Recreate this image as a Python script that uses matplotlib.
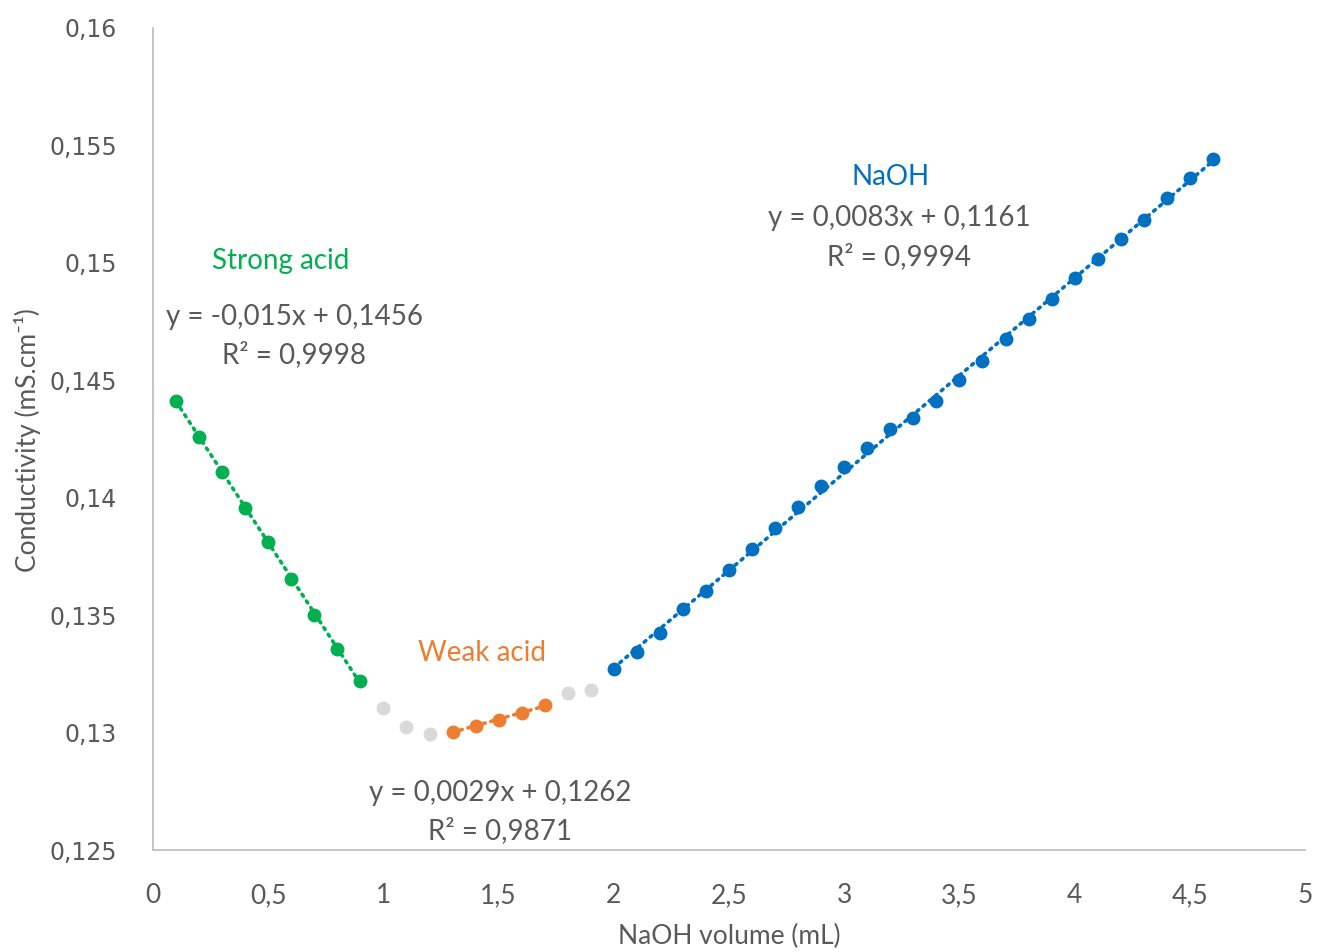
import numpy as np
import matplotlib
matplotlib.use("Agg")
import matplotlib.pyplot as plt

# ---- data ----
strong_x = [0.1, 0.2, 0.3, 0.4, 0.5, 0.6, 0.7, 0.8, 0.9]
strong_y = [0.14413, 0.14260, 0.14110, 0.13958, 0.13811, 0.13653, 0.13501, 0.13357, 0.13220]

grey_x = [1.0, 1.1, 1.2, 1.8, 1.9]
grey_y = [0.13103, 0.13025, 0.12995, 0.13170, 0.13181]

weak_x = [1.3, 1.4, 1.5, 1.6, 1.7]
weak_y = [0.13004, 0.13029, 0.13054, 0.13082, 0.13117]

naoh_x = [2.0, 2.1, 2.2, 2.3, 2.4, 2.5, 2.6, 2.7, 2.8, 2.9, 3.0, 3.1, 3.2, 3.3,
          3.4, 3.5, 3.6, 3.7, 3.8, 3.9, 4.0, 4.1, 4.2, 4.3, 4.4, 4.5, 4.6]
naoh_y = [0.13271, 0.13343, 0.13423, 0.13525, 0.13604, 0.13691, 0.13783, 0.13871,
          0.13959, 0.14051, 0.14131, 0.14210, 0.14291, 0.14338, 0.14413, 0.14501,
          0.14582, 0.14674, 0.14760, 0.14847, 0.14934, 0.15015, 0.15100, 0.15181,
          0.15275, 0.15363, 0.15442]

x_ticks = [0, 0.5, 1, 1.5, 2, 2.5, 3, 3.5, 4, 4.5, 5]
x_tick_labels = ["0", "0,5", "1", "1,5", "2", "2,5", "3", "3,5", "4", "4,5", "5"]
y_ticks = [0.125, 0.13, 0.135, 0.14, 0.145, 0.15, 0.155, 0.16]
y_tick_labels = ["0,125", "0,13", "0,135", "0,14", "0,145", "0,15", "0,155", "0,16"]

GREEN = "#00B050"
ORANGE = "#ED7D31"
BLUE = "#0070C0"
GREY = "#D9D9D9"
TXT = "#595959"

fig = plt.figure(figsize=(13.17, 9.52), dpi=100)
ax = fig.add_axes([0.1162, 0.1071, 0.8747, 0.8635])

def trend(xs, ys, color):
    c = np.polyfit(xs, ys, 1)
    xx = np.array([min(xs), max(xs)])
    ax.plot(xx, np.polyval(c, xx), linestyle=(0, (0.6, 1.6)), color=color,
            linewidth=2.6, dash_capstyle="round", zorder=2)

trend(strong_x, strong_y, GREEN)
trend(weak_x, weak_y, ORANGE)
trend(naoh_x, naoh_y, BLUE)

ms = 9
ax.plot(grey_x, grey_y, "o", color=GREY, markersize=ms, zorder=3)
ax.plot(strong_x, strong_y, "o", color=GREEN, markersize=ms, zorder=3)
ax.plot(weak_x, weak_y, "o", color=ORANGE, markersize=ms, zorder=3)
ax.plot(naoh_x, naoh_y, "o", color=BLUE, markersize=ms, zorder=3)

ax.set_xlim(0, 5)
ax.set_ylim(0.125, 0.16)
ax.set_xticks(x_ticks)
ax.set_xticklabels(x_tick_labels, fontfamily="Lato", fontsize=19, color=TXT)
ax.set_yticks(y_ticks)
ax.set_yticklabels(y_tick_labels, fontfamily="DejaVu Sans", fontsize=17, color=TXT)
ax.tick_params(axis="both", length=0)
ax.tick_params(axis="y", pad=26)
ax.tick_params(axis="x", pad=24)

for s in ["top", "right"]:
    ax.spines[s].set_visible(False)
for s in ["left", "bottom"]:
    ax.spines[s].set_color("#BFBFBF")
    ax.spines[s].set_linewidth(1.3)

fig.text(729 / 1317, 1 - 936 / 952, "NaOH volume (mL)", ha="center", va="center",
         fontfamily="Lato", fontsize=19, color=TXT)
fig.text(28 / 1317, 1 - 440 / 952, "Conductivity (mS.cm⁻¹)", ha="center", va="center",
         rotation=90, family=["Lato", "DejaVu Sans"], fontsize=19, color=TXT)

fs = 20
kw = dict(ha="center", va="center", fontfamily="Lato", fontsize=fs)
ax.text(0.556, 0.1501, "Strong acid", color=GREEN, **kw)
ax.text(0.612, 0.1477, "y = -0,015x + 0,1456", color=TXT, **kw)
ax.text(0.612, 0.14608, "R² = 0,9998", color=TXT, **kw)
ax.text(1.428, 0.13339, "Weak acid", color=ORANGE, **kw)
ax.text(1.506, 0.12743, "y = 0,0029x + 0,1262", color=TXT, **kw)
ax.text(1.506, 0.12585, "R² = 0,9871", color=TXT, **kw)
ax.text(3.203, 0.15366, "NaOH", color=BLUE, **kw)
ax.text(3.238, 0.15191, "y = 0,0083x + 0,1161", color=TXT, **kw)
ax.text(3.238, 0.15025, "R² = 0,9994", color=TXT, **kw)

fig.savefig("out.png", dpi=100)
